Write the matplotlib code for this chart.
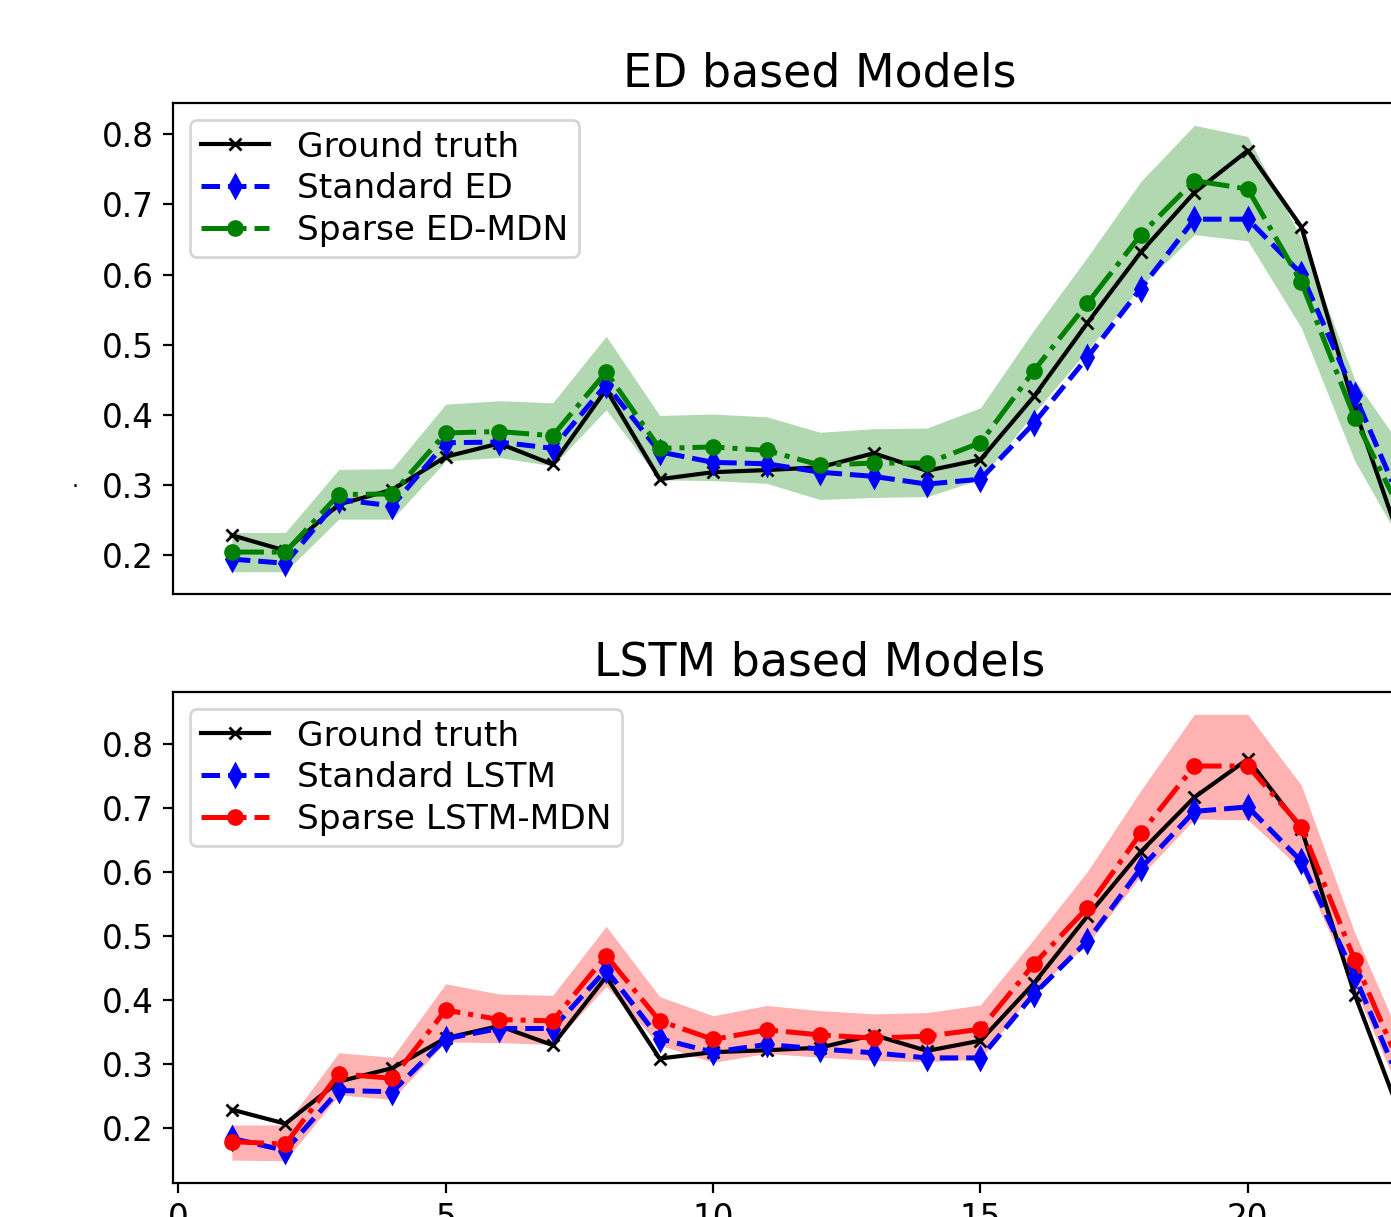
import matplotlib
matplotlib.use('Agg')
import matplotlib.pyplot as plt
import numpy as np

# time steps and ground truth
steps = list(range(1, 24))
ground_truth = [0.228, 0.206, 0.272, 0.293, 0.340, 0.359, 0.329, 0.436, 0.308, 0.318, 0.321, 0.325,
                0.345, 0.320, 0.336, 0.426, 0.531, 0.632, 0.717, 0.777, 0.668, 0.408, 0.187]

# ED based models
ed_standard = [0.194, 0.188, 0.279, 0.270, 0.360, 0.361, 0.352, 0.443, 0.347, 0.332, 0.330, 0.318,
               0.312, 0.301, 0.308, 0.388, 0.482, 0.580, 0.679, 0.679, 0.601, 0.428, 0.251]
ed_mdn = [0.204, 0.204, 0.286, 0.287, 0.374, 0.376, 0.370, 0.461, 0.352, 0.354, 0.349, 0.328,
          0.331, 0.331, 0.360, 0.463, 0.559, 0.657, 0.734, 0.722, 0.589, 0.395, 0.240]
ed_upper = [0.232, 0.232, 0.322, 0.323, 0.415, 0.420, 0.417, 0.512, 0.399, 0.401, 0.397, 0.375,
            0.380, 0.381, 0.410, 0.521, 0.625, 0.733, 0.813, 0.797, 0.652, 0.450, 0.340]
ed_lower = [0.176, 0.176, 0.251, 0.251, 0.334, 0.339, 0.327, 0.407, 0.307, 0.306, 0.302, 0.279,
            0.282, 0.283, 0.308, 0.402, 0.492, 0.583, 0.657, 0.648, 0.524, 0.334, 0.200]

# LSTM based models
lstm_standard = [0.183, 0.164, 0.258, 0.256, 0.339, 0.355, 0.355, 0.447, 0.339, 0.318, 0.330, 0.323,
                 0.317, 0.309, 0.309, 0.409, 0.492, 0.606, 0.695, 0.702, 0.617, 0.437, 0.241]
lstm_mdn = [0.178, 0.174, 0.284, 0.277, 0.384, 0.369, 0.367, 0.469, 0.367, 0.338, 0.353, 0.345,
            0.340, 0.343, 0.354, 0.456, 0.544, 0.661, 0.766, 0.766, 0.671, 0.462, 0.267]
lstm_upper = [0.204, 0.204, 0.317, 0.310, 0.425, 0.409, 0.407, 0.515, 0.405, 0.375, 0.391, 0.383,
              0.378, 0.380, 0.392, 0.495, 0.601, 0.728, 0.847, 0.847, 0.736, 0.505, 0.312]
lstm_lower = [0.149, 0.148, 0.251, 0.244, 0.334, 0.333, 0.330, 0.421, 0.329, 0.302, 0.316, 0.310,
              0.305, 0.303, 0.307, 0.415, 0.487, 0.594, 0.683, 0.682, 0.604, 0.417, 0.224]

TICK_FS = 11.8
LEG_FS = 12.4
TITLE_FS = 16.5

fig = plt.figure(figsize=(6.955, 6.085), dpi=200)
# axes run past the right edge of the canvas, as in the original crop
ax1 = fig.add_axes([0.1244, 0.5119, 0.9303, 0.4035])
ax2 = fig.add_axes([0.1244, 0.0279, 0.9303, 0.4035])


def draw(ax, std, mdn, lo, hi, col, title, std_name, mdn_name):
    ax.fill_between(steps, lo, hi, color=col, alpha=0.3, linewidth=0)
    ax.plot(steps, ground_truth, color='black', marker='x', markersize=4, lw=1.5, label='Ground truth')
    ax.plot(steps, std, color='blue', ls='--', marker='d', markersize=5.5, lw=1.8, label=std_name)
    ax.plot(steps, mdn, color=col, ls='-.', marker='o', markersize=5, lw=1.8, label=mdn_name)
    ax.set_title(title, fontsize=TITLE_FS)
    ax.set_yticks([0.2, 0.3, 0.4, 0.5, 0.6, 0.7, 0.8])
    ax.tick_params(labelsize=TICK_FS)
    ax.legend(loc='upper left', fontsize=LEG_FS, labelspacing=0.25, borderpad=0.3)


draw(ax1, ed_standard, ed_mdn, ed_lower, ed_upper, 'green', 'ED based Models',
     'Standard ED', 'Sparse ED-MDN')
draw(ax2, lstm_standard, lstm_mdn, lstm_lower, lstm_upper, 'red', 'LSTM based Models',
     'Standard LSTM', 'Sparse LSTM-MDN')
ax1.set_xticks([])
ax2.set_xticks([0, 5, 10, 15, 20])

fig.text(75 / 1391, 1 - 487 / 1217, '\u00b7', fontsize=8, ha='center', va='center')

plt.savefig('out.png', dpi=200)
